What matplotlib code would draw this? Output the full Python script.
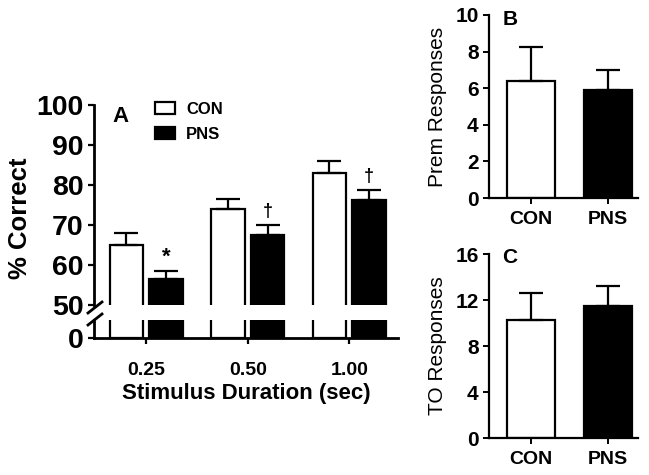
import numpy as np
import matplotlib.pyplot as plt
from matplotlib.lines import Line2D

plt.rcParams['font.family'] = ['Liberation Sans', 'DejaVu Sans']

# panel A data
durations = ['0.25', '0.50', '1.00']
con_pct = [65.1, 74.0, 83.1]
con_pct_err = [2.8, 2.4, 2.8]
pns_pct = [56.6, 67.4, 76.2]
pns_pct_err = [2.0, 2.6, 2.5]
marks = ['*', '\u2020', '\u2020']

# panel B / C data
groups = ['CON', 'PNS']
prem = [6.4, 5.9]
prem_err = [1.85, 1.1]
to_resp = [10.3, 11.5]
to_err = [2.3, 1.7]

W, H = 649, 475
fig = plt.figure(figsize=(W / 100, H / 100), dpi=100)

def frac(x0, y0, x1, y1):
    # pixel box (left, top, right, bottom) -> figure fraction rect
    return [x0 / W, 1 - y1 / H, (x1 - x0) / W, (y1 - y0) / H]

lw = 1.6
ekw = dict(elinewidth=lw, capthick=lw, capsize=8.5, ecolor='black')

# ---- panel A (broken axis) ----
axt = fig.add_axes(frac(94, 105, 398, 305))
axb = fig.add_axes(frac(94, 320, 398, 338))
x = np.arange(len(durations))
bw, off = 0.33, 0.195
for ax in (axt, axb):
    b1 = ax.bar(x - off, con_pct, bw, color='white', edgecolor='black', linewidth=lw)
    b2 = ax.bar(x + off, pns_pct, bw, color='black', edgecolor='black', linewidth=lw)
    ax.set_xlim(-0.515, 2.48)
    for s in ('top', 'right'):
        ax.spines[s].set_visible(False)
    ax.spines['left'].set_linewidth(2)
    ax.tick_params(direction='out', width=1.6, length=4, labelsize=20)
axt.errorbar(x - off, con_pct, yerr=[np.zeros(3), con_pct_err], fmt='none', **ekw)
axt.errorbar(x + off, pns_pct, yerr=[np.zeros(3), pns_pct_err], fmt='none', **ekw)
axt.set_ylim(50, 100)
axt.set_yticks([50, 60, 70, 80, 90, 100])
axt.set_yticklabels(['50', '60', '70', '80', '90', '100'], fontweight='bold', fontsize=20.5)
axt.spines['bottom'].set_visible(False)
axt.set_xticks([])
axb.set_ylim(0, 4.5)
axb.set_yticks([0])
axb.set_yticklabels(['0'], fontweight='bold', fontsize=20.5)
axb.spines['bottom'].set_linewidth(2)
axb.set_xticks(x)
axb.set_xticklabels(durations, fontweight='bold', fontsize=14)
axb.tick_params(axis='x', pad=13)
axb.set_xlabel('Stimulus Duration (sec)', fontweight='bold', fontsize=16, labelpad=3)
fig.text(20 / W, 1 - 218 / H, '% Correct', rotation=90, fontsize=18.5, fontweight='bold',
         ha='center', va='center')

for i in range(len(durations)):
    top = pns_pct[i] + pns_pct_err[i]
    axt.text(x[i] + off, top + 3.4, marks[i], ha='center', va='center',
             fontsize=16 if marks[i] == '*' else 13, fontweight='bold')

axt.text(0.06, 0.995, 'A', transform=axt.transAxes, fontsize=16, fontweight='bold',
         ha='left', va='top')
axt.legend([b1, b2], ['CON', 'PNS'], loc='upper left', bbox_to_anchor=(0.15, 1.09),
           frameon=False, prop=dict(weight='bold', size=12), handlelength=1.2,
           handleheight=0.75, handletextpad=0.7, labelspacing=0.6)

# break marks
for y0 in (313, 325):
    fig.add_artist(Line2D([88 / W, 102 / W], [1 - y0 / H, 1 - (y0 - 11) / H],
                          color='black', linewidth=2))

# ---- panels B and C ----
def small(ax, vals, errs, ylim, ticks, label, letter):
    xs = np.arange(len(groups))
    ax.bar(xs, vals, 0.62, color=['white', 'black'], edgecolor='black', linewidth=lw)
    ax.errorbar(xs, vals, yerr=[np.zeros(2), errs], fmt='none', **ekw)
    ax.set_xlim(-0.545, 1.39)
    ax.set_ylim(*ylim)
    ax.set_yticks(ticks)
    ax.set_yticklabels([str(t) for t in ticks], fontweight='bold', fontsize=15)
    ax.set_xticks(xs)
    ax.set_xticklabels(groups, fontweight='bold', fontsize=14)
    for s in ('top', 'right'):
        ax.spines[s].set_visible(False)
    for s in ('left', 'bottom'):
        ax.spines[s].set_linewidth(1.6)
    ax.tick_params(direction='out', width=1.4, length=4)
    ax.tick_params(axis='x', pad=5)
    ax.set_ylabel(label, fontsize=15, labelpad=6)
    ax.text(0.09, 1.03, letter, transform=ax.transAxes, fontsize=15, fontweight='bold',
            ha='left', va='top')

axB = fig.add_axes(frac(489, 15, 638, 198))
small(axB, prem, prem_err, (0, 10), [0, 2, 4, 6, 8, 10], 'Prem Responses', 'B')
axC = fig.add_axes(frac(489, 254, 638, 438))
small(axC, to_resp, to_err, (0, 16), [0, 4, 8, 12, 16], 'TO Responses', 'C')

fig.savefig('out.png', dpi=100)
